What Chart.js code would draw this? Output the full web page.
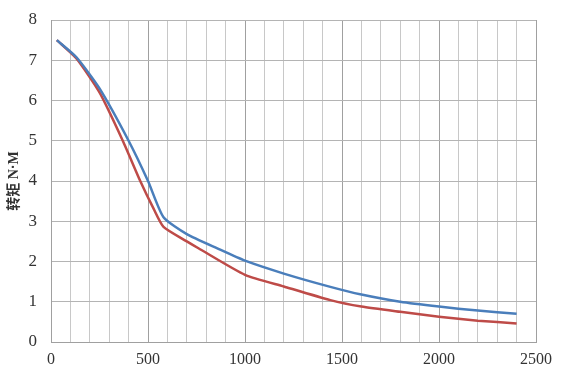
<!DOCTYPE html>
<html>
<head>
<meta charset="utf-8">
<script src="https://cdn.jsdelivr.net/npm/chart.js@4/dist/chart.umd.min.js"></script>
<style>
  html, body { margin: 0; padding: 0; background: #fff; }
  #wrap { width: 564px; height: 374px; }
</style>
</head>
<body>
<div id="wrap"><canvas id="torqueChart"></canvas></div>
<script>
// speed (rpm) / torque (N·M)
var blueSpeed  = [30, 130, 250, 400, 500, 580, 700, 860, 1000, 1200, 1440, 1600, 1800, 2000, 2200, 2400];
var blueTorque = [7.5, 7.08, 6.3, 5.0, 4.0, 3.1, 2.68, 2.32, 2.02, 1.7, 1.37, 1.18, 1.0, 0.88, 0.78, 0.7];
var redSpeed   = [30, 130, 250, 370, 460, 530, 580, 700, 760, 1000, 1200, 1440, 1600, 1800, 2000, 2200, 2400];
var redTorque  = [7.5, 7.05, 6.2, 5.0, 4.0, 3.3, 2.86, 2.5, 2.33, 1.67, 1.38, 1.04, 0.88, 0.75, 0.63, 0.53, 0.46];
var xTicks = [0, 500, 1000, 1500, 2000, 2500];
var yTitle = '转矩 N·M';

function toPoints(xs, ys) {
    var pts = [];
    for (var i in xs) {
        pts.push({x: xs[i], y: ys[i]});
    }
    return pts;
}

var chartData = {
    datasets: [
        {
            label: 'blue',
            data: toPoints(blueSpeed, blueTorque),
            borderColor: '#4a7ebb',
            borderWidth: 2.5,
            pointRadius: 0,
            tension: 0.2
        },
        {
            label: 'red',
            data: toPoints(redSpeed, redTorque),
            borderColor: '#be4b48',
            borderWidth: 2.5,
            pointRadius: 0,
            tension: 0.2
        }
    ]
};

var ctx = document.getElementById('torqueChart');
var torqueChart = new Chart(ctx, {
    type: 'line',
    data: chartData,
    options: {
        responsive: true,
        maintainAspectRatio: false,
        animation: false,
        layout: { padding: { top: 20, right: 28, left: 0, bottom: 0 } },
        plugins: {
            legend: { display: false },
            tooltip: { enabled: false }
        },
        scales: {
            x: {
                type: 'linear',
                min: 0,
                max: 2500,
                afterFit: function(scale) { scale.height = 32; scale.paddingLeft = 0; scale.paddingRight = 0; },
                ticks: {
                    stepSize: 100,
                    color: '#333',
                    font: { family: 'Liberation Serif', size: 16 },
                    padding: 8,
                    maxRotation: 0,
                    autoSkip: false,
                    callback: function(v) { return xTicks.indexOf(v) >= 0 ? String(v) : ''; }
                },
                grid: {
                    drawTicks: false,
                    color: function(c) { return (c.tick && c.tick.value % 500 === 0) ? '#a0a0a0' : '#c8c8c8'; },
                    lineWidth: 1
                },
                border: { color: '#a0a0a0' }
            },
            y: {
                min: 0,
                max: 8,
                afterFit: function(scale) { scale.width = 51; scale.paddingTop = 0; scale.paddingBottom = 0; },
                ticks: {
                    stepSize: 1,
                    color: '#333',
                    font: { family: 'Liberation Serif', size: 17 },
                    padding: 14
                },
                grid: {
                    drawTicks: false,
                    color: '#b4b4b4'
                },
                border: { color: '#a0a0a0' },
                title: {
                    display: true,
                    text: yTitle,
                    color: '#333',
                    font: { family: 'Liberation Serif, Noto Sans CJK SC', size: 14, weight: 'bold' },
                    padding: { top: 6, bottom: 0 }
                }
            }
        }
    }
});
</script>
</body>
</html>
